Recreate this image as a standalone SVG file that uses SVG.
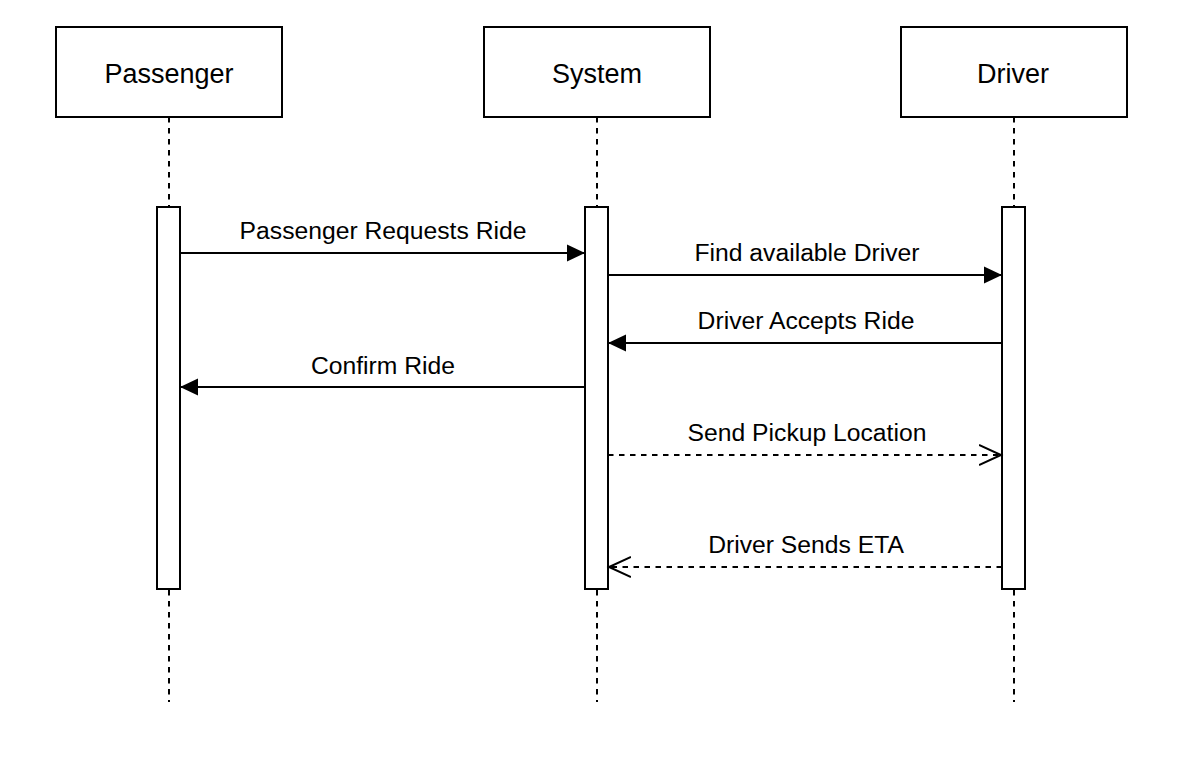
<svg xmlns="http://www.w3.org/2000/svg" width="1200" height="765" viewBox="0 0 1200 765">
<style>
.box{fill:#fff;stroke:#000;stroke-width:2}
.act{fill:#fff;stroke:#000;stroke-width:2}
.life{stroke:#000;stroke-width:2;stroke-dasharray:5.5 5.5;fill:none}
.msg{stroke:#000;stroke-width:2;fill:none}
.ret{stroke:#000;stroke-width:2;fill:none;stroke-dasharray:5.5 5.5}
.ttl{font-family:"Liberation Sans",Arial,sans-serif;font-size:27px;fill:#000;text-anchor:middle}
.lbl{font-family:"Liberation Sans",Arial,sans-serif;font-size:24.7px;fill:#000;text-anchor:middle}
</style>
<defs>
<marker id="filled" markerUnits="userSpaceOnUse" markerWidth="20" markerHeight="20" refX="18" refY="9" orient="auto">
<path d="M0,0.5 L18,9 L0,17.5 Z" fill="#000"/>
</marker>
<marker id="open" markerUnits="userSpaceOnUse" markerWidth="26" markerHeight="26" refX="22" refY="11" orient="auto">
<path d="M0,1 L22,11 L0,21" fill="none" stroke="#000" stroke-width="2"/>
</marker>
</defs>
<rect width="1200" height="765" fill="#fff"/>
<g id="lifelines">
<line class="life" x1="169" y1="117" x2="169" y2="702"/>
<line class="life" x1="597" y1="117" x2="597" y2="702"/>
<line class="life" x1="1014" y1="117" x2="1014" y2="702"/>
</g>
<g id="passenger">
<rect class="box" x="56" y="27" width="226" height="90"/>
<text class="ttl" x="169" y="82.5">Passenger</text>
<rect class="act" x="157" y="207" width="23" height="382"/>
</g>
<g id="system">
<rect class="box" x="484" y="27" width="226" height="90"/>
<text class="ttl" x="597" y="82.5">System</text>
<rect class="act" x="585" y="207" width="23" height="382"/>
</g>
<g id="driver">
<rect class="box" x="901" y="27" width="226" height="90"/>
<text class="ttl" x="1013" y="82.5">Driver</text>
<rect class="act" x="1002" y="207" width="23" height="382"/>
</g>
<g id="connectors">
<line class="msg" x1="180" y1="253" x2="585" y2="253" marker-end="url(#filled)"/>
<text class="lbl" x="383" y="238.5">Passenger Requests Ride</text>
<line class="msg" x1="608" y1="275" x2="1002" y2="275" marker-end="url(#filled)"/>
<text class="lbl" x="807" y="260.5">Find available Driver</text>
<line class="msg" x1="1002" y1="343" x2="608" y2="343" marker-end="url(#filled)"/>
<text class="lbl" x="806" y="328.5">Driver Accepts Ride</text>
<line class="msg" x1="585" y1="387" x2="180" y2="387" marker-end="url(#filled)"/>
<text class="lbl" x="383" y="373.5">Confirm Ride</text>
<line class="ret" x1="608" y1="455" x2="1001" y2="455" marker-end="url(#open)"/>
<text class="lbl" x="807" y="440.5">Send Pickup Location</text>
<line class="ret" x1="1002" y1="567" x2="609" y2="567" marker-end="url(#open)"/>
<text class="lbl" x="806" y="552.5">Driver Sends ETA</text>
</g>
</svg>
